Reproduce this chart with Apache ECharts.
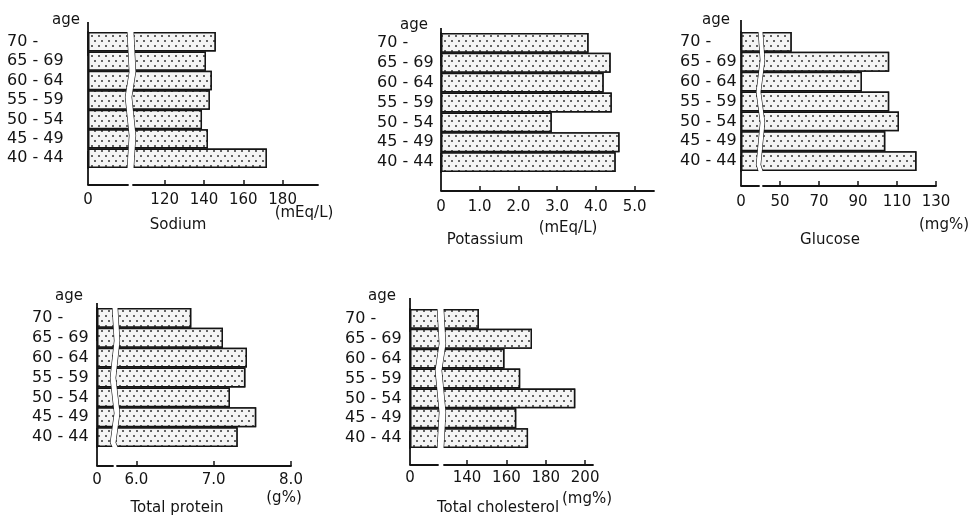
<!DOCTYPE html>
<html><head><meta charset="utf-8">
<script src="https://cdn.jsdelivr.net/npm/echarts@6/dist/echarts.min.js"></script>
<style>html,body{margin:0;padding:0;background:#fff}#c{width:971px;height:516px}</style>
</head><body><div id="c"></div>
<script>
// ---- data (bottom to top: 40-44 ... 70-) ----
const ageGroups = ['40 - 44', '45 - 49', '50 - 54', '55 - 59', '60 - 64', '65 - 69', '70 -'];
const sodium = [172, 142, 139, 143, 144, 141, 146];
const potassium = [4.51, 4.61, 2.86, 4.41, 4.20, 4.38, 3.81];
const glucose = [120, 104, 111, 106, 92, 106, 56];
const totalProtein = [7.31, 7.55, 7.21, 7.41, 7.43, 7.12, 6.71];
const totalCholesterol = [171, 165, 195, 167, 159, 173, 146];

// tick values shown on each axis (besides 0)
const sodiumTicks = [120, 140, 160, 180];
const potassiumTicks = [1, 2, 3, 4, 5];
const glucoseTicks = [50, 70, 90, 110, 130];
const proteinTicks = [6, 7, 8];
const cholesterolTicks = [140, 160, 180, 200];

const titles = ['Sodium', 'Potassium', 'Glucose', 'Total protein', 'Total cholesterol'];
const units = ['(mEq/L)', '(mEq/L)', '(mg%)', '(g%)', '(mg%)'];

// ---- layout ----
const panels = [
  { data: sodium, ticks: sodiumTicks, digits: 0, max: 198, brk: { start: 20, end: 104, gap: 3 },
    grid: { left: 88, top: 32, width: 230, height: 136 }, offset: 17, extTop: 10, extBottom: 17,
    labelMargin: 81, tickMargin: 8, age: [66, 20], title: [178, 225], unit: [304, 213] },
  { data: potassium, ticks: potassiumTicks, digits: 1, max: 5.5, brk: null,
    grid: { left: 441, top: 33, width: 213, height: 139 }, offset: 19, extTop: 5, extBottom: 19,
    labelMargin: 64, tickMargin: 9, age: [414, 25], title: [485, 240], unit: [568, 228] },
  { data: glucose, ticks: glucoseTicks, digits: 0, max: 130, brk: { start: 9, end: 41, gap: 2 },
    grid: { left: 741, top: 32, width: 195, height: 139 }, offset: 15, extTop: 12, extBottom: 15,
    labelMargin: 61, tickMargin: 9, age: [716, 20], title: [830, 240], unit: [944, 225] },
  { data: totalProtein, ticks: proteinTicks, digits: 1, max: 8, brk: { start: 0.2, end: 5.75, gap: 0.06 },
    grid: { left: 97, top: 308, width: 194, height: 139 }, offset: 19, extTop: 5, extBottom: 19,
    labelMargin: 65, tickMargin: 7, age: [69, 296], title: [177, 508], unit: [284, 498] },
  { data: totalCholesterol, ticks: cholesterolTicks, digits: 0, max: 204, brk: { start: 14, end: 128, gap: 3 },
    grid: { left: 410, top: 309, width: 183, height: 139 }, offset: 17, extTop: 11, extBottom: 17,
    labelMargin: 65, tickMargin: 6, age: [382, 296], title: [498, 508], unit: [587, 499] }
];

const INK = '#141414';
const FONT = 'DejaVu Sans';

const grids = [], xAxes = [], yAxes = [], series = [], graphics = [];
panels.forEach((p, i) => {
  grids.push(Object.assign({ containLabel: false }, p.grid));
  const maxExt = Math.max(p.extTop, p.extBottom);
  yAxes.push({
    type: 'category', gridIndex: i, data: ageGroups,
    axisLine: { show: true, lineStyle: { color: INK, width: 1.8 },
      symbol: ['rect', 'rect'], symbolSize: [1.8, 2 * maxExt],
      symbolOffset: [maxExt - p.extBottom, -(maxExt - p.extTop)] },
    axisTick: { show: false },
    axisLabel: { interval: 0, hideOverlap: false, margin: p.labelMargin, align: 'left',
      fontSize: 16, fontFamily: FONT, color: INK }
  });
  const x = {
    type: 'value', gridIndex: i, min: 0, max: p.max, offset: p.offset,
    splitLine: { show: false },
    axisLine: { show: true, lineStyle: { color: INK, width: 1.8 } },
    axisTick: { show: true, inside: true, length: 5, lineStyle: { color: INK, width: 1.5 }, customValues: p.ticks },
    axisLabel: { customValues: [0].concat(p.ticks), margin: p.tickMargin, fontSize: 15, fontFamily: FONT, color: INK,
      formatter: v => (v === 0 ? '0' : Number(v).toFixed(p.digits)) }
  };
  if (p.brk) {
    x.breaks = [p.brk];
    x.breakArea = { show: true, expandOnClick: false,
      itemStyle: { color: '#fff', borderColor: INK, borderWidth: 1.2, borderType: 'solid', opacity: 1 },
      zigzagAmplitude: 2, zigzagMinSpan: 25, zigzagMaxSpan: 45, zigzagZ: 100 };
  }
  xAxes.push(x);
  series.push({
    type: 'bar', xAxisIndex: i, yAxisIndex: i, data: p.data, barCategoryGap: '0%', silent: true,
    itemStyle: { color: '#f4f4f4', borderColor: INK, borderWidth: 1.5,
      decal: { symbol: 'circle', symbolSize: 1, color: '#333', backgroundColor: '#f4f4f4',
        dashArrayX: [[1.4, 4.2], [0, 2.8, 1.4, 1.4]], dashArrayY: [1.4, 2.2] } }
  });
  const txt = (t, xy, size, align) => graphics.push({ type: 'text', x: xy[0], y: xy[1], silent: true,
    style: { text: t, fill: INK, font: size + 'px "' + FONT + '"', align: align, textAlign: align,
      verticalAlign: 'middle', textVerticalAlign: 'middle' } });
  txt('age', p.age, 15, 'center');
  txt(titles[i], p.title, 15, 'center');
  txt(units[i], p.unit, 15, 'center');
});

const chart = echarts.init(document.getElementById('c'), null, { renderer: 'canvas' });
chart.setOption({
  animation: false,
  backgroundColor: '#fff',
  grid: grids, xAxis: xAxes, yAxis: yAxes, series: series, graphic: graphics
});
</script></body></html>
